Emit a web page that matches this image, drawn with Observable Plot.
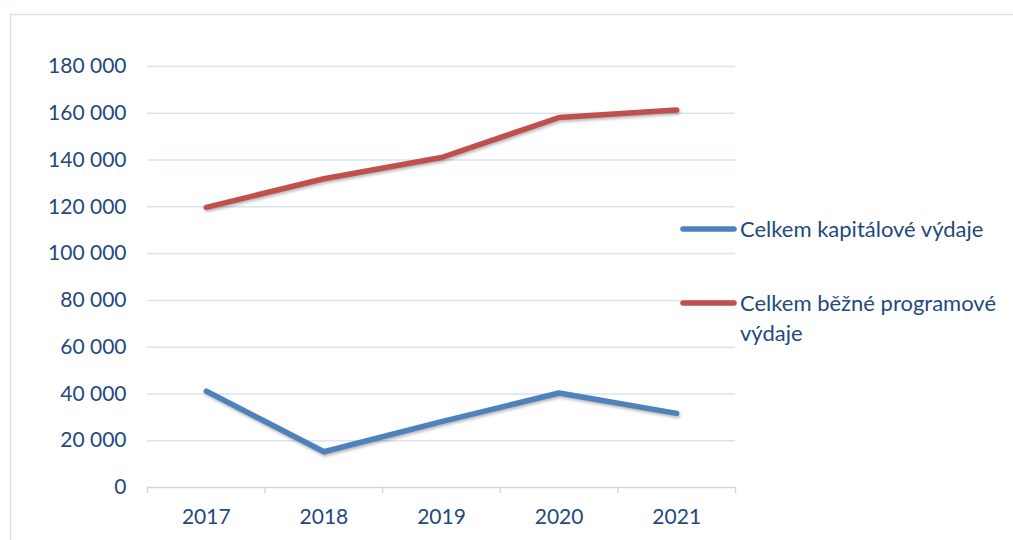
<!DOCTYPE html>
<html>
<head>
<meta charset="utf-8">
<script src="https://cdn.jsdelivr.net/npm/d3@7"></script>
<script src="https://cdn.jsdelivr.net/npm/@observablehq/plot@0.6"></script>
<style>
  html, body { margin: 0; padding: 0; background: #fff; overflow: hidden; }
  #chart { position: relative; width: 1013px; height: 540px; }
  #chart svg g[aria-label="line"] path { filter: drop-shadow(1px 2px 1.5px rgba(0,0,0,0.28)); }
</style>
</head>
<body>
<div id="chart"></div>
<script>
const years = ["2017", "2018", "2019", "2020", "2021"];
const seriesNames = ["Celkem kapitálové výdaje", "Celkem běžné programové výdaje"];
const kapitalove = [41200, 15300, 28200, 40400, 31700];
const bezne = [119800, 132000, 141100, 158200, 161400];
const yTicks = [0, 20000, 40000, 60000, 80000, 100000, 120000, 140000, 160000, 180000];
const colors = ["#4f81bd", "#c0504d"];

const textColor = "#24497d";
const gridColor = "#d9e3f2";
const font = "Lato, 'Open Sans', sans-serif";

const rows = [];
years.forEach((y, i) => {
  rows.push({year: +y, value: kapitalove[i], series: seriesNames[0]});
  rows.push({year: +y, value: bezne[i], series: seriesNames[1]});
});
const boundaries = years.map(y => +y - 0.5).concat([+years[years.length - 1] + 0.5]);

const fmt = d => d3.format(",")(d).replace(/,/g, " ");

const plot = Plot.plot({
  width: 1013,
  height: 540,
  marginLeft: 147,
  marginRight: 278,
  marginTop: 66,
  marginBottom: 53,
  style: {fontFamily: font, fontSize: "21px", color: textColor, background: "transparent", overflow: "visible"},
  x: {type: "linear", domain: [boundaries[0], boundaries[boundaries.length - 1]]},
  y: {domain: [0, 180000]},
  color: {domain: seriesNames, range: colors},
  marks: [
    Plot.gridY(yTicks.filter(d => d > 0), {stroke: gridColor, strokeOpacity: 1, strokeWidth: 1.5}),
    Plot.ruleY([0], {stroke: "#cbd8ec", strokeWidth: 1.5}),
    Plot.axisX(boundaries, {tickSize: 6, tickFormat: () => "", stroke: "#cbd8ec", strokeWidth: 1.5, label: null}),
    Plot.axisX(years.map(Number), {tickSize: 0, tickPadding: 22, tickFormat: d => String(d), fill: textColor, fontSize: 21, label: null}),
    Plot.axisY(yTicks, {tickSize: 0, tickPadding: 21, tickFormat: fmt, fill: textColor, fontSize: 21, label: null}),
    Plot.line(rows, {x: "year", y: "value", z: "series", stroke: "series", strokeWidth: 5.5, strokeLinecap: "round", strokeLinejoin: "round"})
  ]
});

document.getElementById("chart").appendChild(plot);

// outer chart border and legend
const svg = d3.select(plot);
svg.insert("rect", ":first-child")
  .attr("x", 10.5).attr("y", 14.5).attr("width", 1010).attr("height", 540)
  .attr("fill", "none").attr("stroke", "#d6e2f3").attr("stroke-width", 1.5);

const legend = svg.append("g")
  .attr("font-family", font).attr("font-size", 22)
  .attr("fill", textColor).attr("text-anchor", "start");
const legendItems = [
  {name: seriesNames[0], color: colors[0], y: 229, lines: ["Celkem kapitálové výdaje"]},
  {name: seriesNames[1], color: colors[1], y: 303, lines: ["Celkem běžné programové", "výdaje"]}
];
legendItems.forEach(item => {
  legend.append("line")
    .attr("x1", 683).attr("x2", 734).attr("y1", item.y).attr("y2", item.y)
    .attr("stroke", item.color).attr("stroke-width", 5.5).attr("stroke-linecap", "round");
  item.lines.forEach((t, j) => {
    legend.append("text")
      .attr("x", 740).attr("y", item.y + j * 30).attr("dy", "0.35em")
      .attr("text-anchor", "start")
      .text(t);
  });
});
</script>
</body>
</html>
